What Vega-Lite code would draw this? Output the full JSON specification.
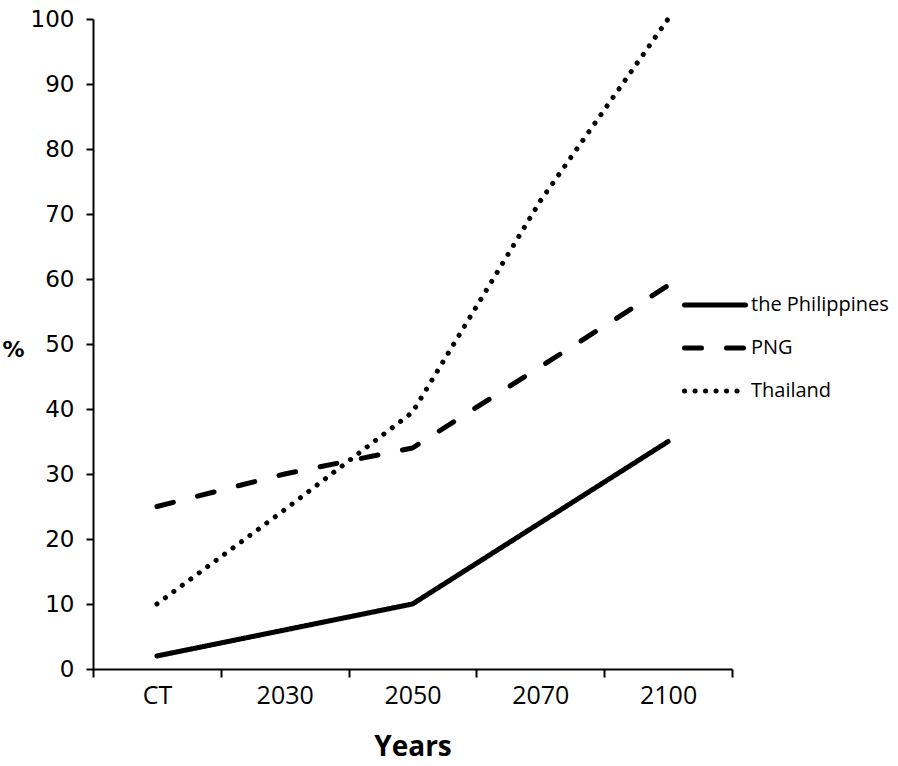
{
  "$schema": "https://vega.github.io/schema/vega-lite/v6.json",
  "width": 639,
  "height": 650,
  "autosize": {"type": "none"},
  "padding": {"left": 93, "top": 19, "right": 166, "bottom": 97},
  "background": "white",
  "config": {"view": {"stroke": null}},
  "data": {
    "values": [
      {"year": "CT", "country": "the Philippines", "pct": 2},
      {"year": "2030", "country": "the Philippines", "pct": 6},
      {"year": "2050", "country": "the Philippines", "pct": 10},
      {"year": "2070", "country": "the Philippines", "pct": 22.5},
      {"year": "2100", "country": "the Philippines", "pct": 35},
      {"year": "CT", "country": "PNG", "pct": 25},
      {"year": "2030", "country": "PNG", "pct": 30},
      {"year": "2050", "country": "PNG", "pct": 34},
      {"year": "2070", "country": "PNG", "pct": 46.5},
      {"year": "2100", "country": "PNG", "pct": 59},
      {"year": "CT", "country": "Thailand", "pct": 10},
      {"year": "2030", "country": "Thailand", "pct": 24.5},
      {"year": "2050", "country": "Thailand", "pct": 39.5},
      {"year": "2070", "country": "Thailand", "pct": 72},
      {"year": "2100", "country": "Thailand", "pct": 100}
    ]
  },
  "mark": {"type": "line", "strokeWidth": 5, "strokeCap": "round", "strokeJoin": "round", "color": "black"},
  "encoding": {
    "x": {
      "field": "year",
      "type": "nominal",
      "sort": ["CT", "2030", "2050", "2070", "2100"],
      "scale": {"paddingInner": 0, "paddingOuter": 0},
      "axis": {
        "title": "Years",
        "labelAngle": 0,
        "tickBand": "extent",
        "domainColor": "black",
        "domainWidth": 2,
        "tickColor": "black",
        "tickWidth": 2,
        "tickSize": 8,
        "labelFont": "Open Sans",
        "labelFontSize": 25,
        "labelColor": "black",
        "labelPadding": 6,
        "titleFont": "Open Sans",
        "titleFontWeight": "bold",
        "titleFontSize": 28,
        "titleColor": "black",
        "titleBaseline": "middle",
        "titleY": 78
      }
    },
    "y": {
      "field": "pct",
      "type": "quantitative",
      "scale": {"domain": [0, 100]},
      "axis": {
        "title": "%",
        "titleAngle": 0,
        "titleX": -80,
        "titleY": 330,
        "titleAlign": "center",
        "titleBaseline": "middle",
        "titleFont": "DejaVu Sans",
        "titleFontWeight": "bold",
        "titleFontSize": 22,
        "titleColor": "black",
        "values": [0, 10, 20, 30, 40, 50, 60, 70, 80, 90, 100],
        "grid": false,
        "domainColor": "black",
        "domainWidth": 2,
        "tickColor": "black",
        "tickWidth": 2,
        "tickSize": 7,
        "labelFont": "DejaVu Sans",
        "labelFontSize": 23,
        "labelColor": "black",
        "labelPadding": 12
      }
    },
    "strokeDash": {
      "field": "country",
      "type": "nominal",
      "sort": ["the Philippines", "PNG", "Thailand"],
      "scale": {
        "domain": ["the Philippines", "PNG", "Thailand"],
        "range": [[1, 0], [17, 25], [0.1, 10.4]]
      },
      "legend": {
        "title": null,
        "orient": "none",
        "legendX": 589,
        "legendY": 253,
        "symbolType": "stroke",
        "symbolSize": 3721,
        "symbolStrokeWidth": 5,
        "symbolStrokeColor": "black",
        "labelFont": "Open Sans",
        "labelFontSize": 20,
        "labelColor": "black",
        "labelOffset": 3,
        "rowPadding": -14.5,
        "encode": {"symbols": {"update": {"strokeCap": {"value": "round"}}}}
      }
    }
  }
}
